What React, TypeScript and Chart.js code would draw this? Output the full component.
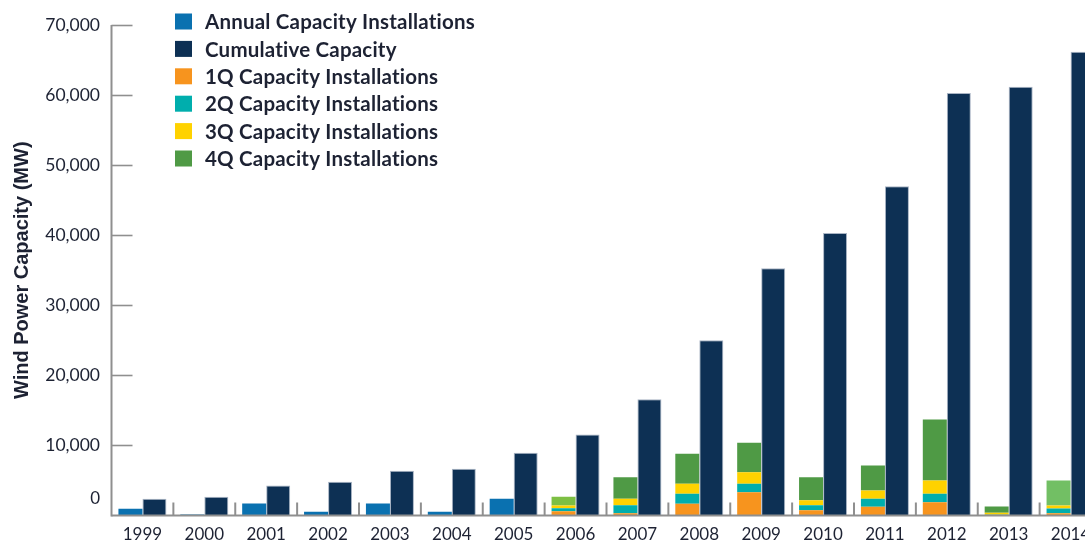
import React, { useEffect, useRef } from 'react';
import { Chart, registerables } from 'chart.js';

Chart.register(...registerables);

const years = ['1999', '2000', '2001', '2002', '2003', '2004', '2005', '2006', '2007', '2008', '2009', '2010', '2011', '2012', '2013', '2014'];
const annualInstall = [960, 140, 1710, 530, 1710, 530, 2380, null, null, null, null, null, null, null, null, null];
const cumulativeCap = [2380, 2670, 4280, 4800, 6380, 6660, 8950, 11560, 16600, 25000, 35300, 40300, 47000, 60300, 61200, 66200];
const q1Install = [null, null, null, null, null, null, null, 610, 330, 1670, 3330, 760, 1240, 1900, 50, 330];
const q2Install = [null, null, null, null, null, null, null, 430, 1140, 1430, 1200, 710, 1140, 1200, 50, 670];
const q3Install = [null, null, null, null, null, null, null, 390, 910, 1430, 1660, 710, 1180, 1900, 280, 430];
const q4Install = [null, null, null, null, null, null, null, 1240, 3080, 4280, 4200, 3280, 3570, 8700, 910, 3570];
const yTickValues = [0, 10000, 20000, 30000, 40000, 50000, 60000, 70000];
const seriesNames = [
  'Annual Capacity Installations',
  'Cumulative Capacity',
  '1Q Capacity Installations',
  '2Q Capacity Installations',
  '3Q Capacity Installations',
  '4Q Capacity Installations',
];

const C_ANNUAL = '#0A71B0';
const C_CUM = '#0D3054';
const C_Q1 = '#F7941E';
const C_Q2 = '#00AEAD';
const C_Q3 = '#FFD200';
const C_Q4 = '#4F9A45';
const AXIS = '#8f8f8f';
const TEXT = '#1d2233';
const TICK_FONT = 'Lato, "Open Sans", sans-serif';

const q4Colors = years.map((y) => (y === '2006' ? '#7DBF43' : y === '2014' ? '#72BF64' : C_Q4));
const legendColors = [C_ANNUAL, C_CUM, C_Q1, C_Q2, C_Q3, C_Q4];

const decorPlugin = {
  id: 'decor',
  afterDraw(chart: any) {
    const { ctx, chartArea, scales } = chart;
    const xs = scales.x;
    const ys = scales.y;
    ctx.save();
    ctx.strokeStyle = AXIS;
    ctx.lineCap = 'butt';
    // y axis line
    ctx.lineWidth = 2;
    ctx.beginPath();
    ctx.moveTo(chartArea.left, chartArea.top);
    ctx.lineTo(chartArea.left, chartArea.bottom + 1);
    ctx.stroke();
    // x axis line
    ctx.beginPath();
    ctx.moveTo(chartArea.left, chartArea.bottom);
    ctx.lineTo(chartArea.right + 20, chartArea.bottom);
    ctx.stroke();
    // y inner ticks
    ctx.lineWidth = 1.6;
    yTickValues.forEach((v) => {
      if (v === 0) return;
      const py = Math.round(ys.getPixelForValue(v)) + 0.5;
      ctx.beginPath();
      ctx.moveTo(chartArea.left, py);
      ctx.lineTo(chartArea.left + 21, py);
      ctx.stroke();
    });
    // x inner ticks at category boundaries
    ctx.lineWidth = 2;
    for (let i = 1; i <= years.length; i++) {
      const px = i < years.length
        ? (xs.getPixelForValue(i - 1) + xs.getPixelForValue(i)) / 2
        : xs.getPixelForValue(i - 1) + (xs.getPixelForValue(1) - xs.getPixelForValue(0)) / 2;
      ctx.beginPath();
      ctx.moveTo(px, chartArea.bottom);
      ctx.lineTo(px, chartArea.bottom - 13);
      ctx.stroke();
    }
    // "0" label (sits above the baseline in the original)
    ctx.fillStyle = TEXT;
    ctx.font = '17px ' + TICK_FONT;
    ctx.textAlign = 'right';
    ctx.textBaseline = 'middle';
    ctx.fillText('0', chartArea.left - 11.5, ys.getPixelForValue(0) - 17);
    // legend
    ctx.font = 'bold 20.5px Lato, "Open Sans", sans-serif';
    try { (ctx as any).letterSpacing = '0.2px'; } catch (e) { /* ignore */ }
    ctx.textAlign = 'left';
    ctx.textBaseline = 'middle';
    seriesNames.forEach((name, i) => {
      const cy = 21.5 + i * 27.4;
      ctx.fillStyle = legendColors[i];
      ctx.fillRect(175, cy - 8, 17, 16);
      ctx.fillStyle = TEXT;
      ctx.fillText(name, 205, cy + 1);
    });
    ctx.restore();
  },
};

export default function App() {
  const ref = useRef<HTMLCanvasElement | null>(null);

  useEffect(() => {
    if (!ref.current) return;
    const chart = new Chart(ref.current, {
      type: 'bar',
      data: {
        labels: years,
        datasets: [
          { label: seriesNames[0], data: annualInstall, backgroundColor: C_ANNUAL, stack: 'a' },
          { label: seriesNames[1], data: cumulativeCap, backgroundColor: C_CUM, stack: 'b', borderColor: 'rgba(160,172,190,0.9)', borderWidth: 1 },
          { label: seriesNames[2], data: q1Install, backgroundColor: C_Q1, stack: 'a' },
          { label: seriesNames[3], data: q2Install, backgroundColor: C_Q2, stack: 'a' },
          { label: seriesNames[4], data: q3Install, backgroundColor: C_Q3, stack: 'a' },
          { label: seriesNames[5], data: q4Install, backgroundColor: q4Colors, stack: 'a' },
        ] as any,
      },
      options: {
        responsive: false,
        animation: false,
        devicePixelRatio: 1,
        layout: { padding: { top: 25, right: 8.5, bottom: 0, left: 0 } },
        datasets: { bar: { categoryPercentage: 0.776, barPercentage: 1, borderWidth: 0 } },
        plugins: { legend: { display: false }, tooltip: { enabled: false } },
        scales: {
          x: {
            stacked: true,
            offset: true,
            grid: { display: false, drawTicks: false },
            border: { display: false },
            ticks: { color: TEXT, font: { family: TICK_FONT, size: 17 }, padding: 9, maxRotation: 0, autoSkip: false },
            afterFit: (s: any) => { s.height = 28.5; },
          },
          y: {
            stacked: true,
            min: 0,
            max: 70000,
            grid: { display: false, drawTicks: false },
            border: { display: false },
            afterBuildTicks: (s: any) => { s.ticks = yTickValues.map((v) => ({ value: v })); },
            ticks: {
              color: TEXT,
              padding: 11.5,
              font: { family: TICK_FONT, size: 17.5 },
              callback: (v: any) => (Number(v) === 0 ? '' : Number(v).toLocaleString('en-US')),
            },
            title: {
              display: true,
              text: 'Wind Power Capacity (MW)',
              color: TEXT,
              font: { family: '"Liberation Sans", Arial, sans-serif', size: 20, weight: 'bold' },
              padding: { top: 10.5, bottom: 0 },
            },
            afterFit: (s: any) => { s.width = 111.5; },
          },
        },
      },
      plugins: [decorPlugin],
    } as any);
    return () => chart.destroy();
  }, []);

  return (
    <div style={{ position: 'fixed', left: 0, top: 0, width: 1085, height: 544, overflow: 'hidden', background: '#fff' }}>
      <canvas ref={ref} width={1110} height={544} style={{ display: 'block' }} />
    </div>
  );
}
